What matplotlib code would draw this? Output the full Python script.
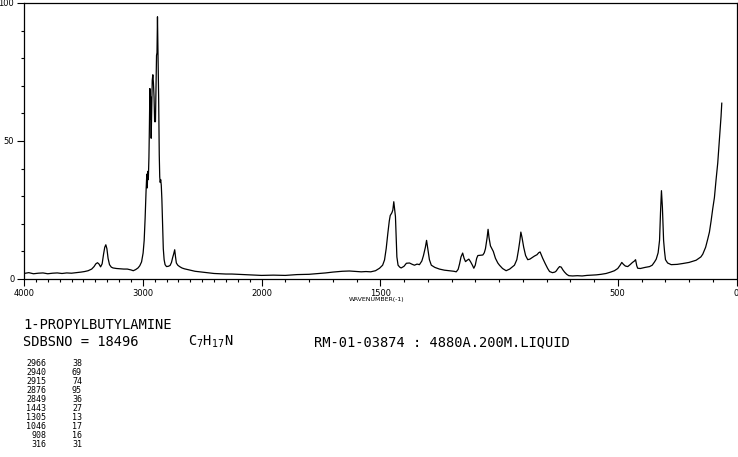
import matplotlib
matplotlib.use("Agg")
import matplotlib.pyplot as plt
import numpy as np

# ---- data ----
wavenumber = [4000, 3960, 3920, 3880, 3840, 3800, 3760, 3720, 3680, 3640, 3600, 3560, 3520, 3490,
              3460, 3430, 3410, 3395, 3381, 3368, 3355, 3342, 3330, 3320, 3311, 3302, 3292, 3280,
              3265, 3250, 3220, 3190, 3160, 3130, 3100, 3080, 3060, 3040, 3025, 3010, 2997, 2988,
              2980, 2972, 2966, 2962, 2958, 2953, 2948, 2944, 2940, 2936, 2933, 2929, 2925, 2920,
              2915, 2910, 2905, 2900, 2893, 2888, 2884, 2880, 2876, 2871, 2866, 2861, 2857, 2853,
              2849, 2844, 2839, 2833, 2827, 2820, 2812, 2800, 2785, 2770, 2758, 2748, 2740, 2731,
              2724, 2717, 2705, 2690, 2670, 2650, 2620, 2590, 2560, 2520, 2480, 2440, 2400, 2350,
              2300, 2250, 2200, 2150, 2100, 2050, 2000, 1950, 1900, 1850, 1800, 1760, 1730, 1700,
              1660, 1630, 1600, 1580, 1560, 1540, 1520, 1503, 1490, 1482, 1475, 1468, 1462, 1458,
              1451, 1447, 1443, 1439, 1436, 1430, 1425, 1418, 1412, 1400, 1390, 1377, 1365, 1356,
              1345, 1335, 1325, 1318, 1310, 1305, 1300, 1293, 1285, 1270, 1251, 1230, 1208, 1190,
              1180, 1172, 1166, 1160, 1153, 1147, 1141, 1134, 1127, 1120, 1112, 1106, 1100, 1094,
              1089, 1080, 1068, 1062, 1057, 1050, 1046, 1042, 1036, 1030, 1024, 1015, 1005, 998,
              985, 970, 955, 945, 935, 925, 918, 912, 908, 903, 896, 888, 879, 870, 860, 851, 840,
              833, 827, 821, 816, 805, 795, 787, 775, 765, 759, 752, 745, 738, 731, 724, 715, 706,
              690, 670, 650, 630, 606, 590, 570, 549, 530, 514, 500, 490, 483, 476, 468, 458, 448,
              438, 430, 425, 420, 416, 405, 395, 385, 366, 355, 345, 338, 330, 324, 320, 316, 312,
              307, 303, 299, 290, 275, 250, 227, 200, 170, 150, 142, 130, 121, 114, 107, 100, 93,
              86, 79, 74, 69, 65, 62]
intensity = [2.0, 2.3, 1.9, 2.1, 2.2, 1.9, 2.1, 2.2, 2.0, 2.2, 2.1, 2.3, 2.5, 2.7,
             3.0, 3.6, 4.5, 5.5, 5.9, 5.4, 4.4, 5.5, 9.0, 11.5, 12.4, 11.0, 7.5, 5.2,
             4.3, 4.0, 3.8, 3.7, 3.6, 3.6, 3.3, 3.0, 3.4, 4.0, 4.8, 6.2, 9.4, 14,
             22, 32, 38, 33, 39, 36, 44, 55, 69, 58, 66, 51, 60, 72,
             74, 71, 66, 57, 57, 70, 81, 82, 95, 80, 65, 45, 37, 35,
             36, 34, 29, 20, 11, 7, 5.2, 4.5, 4.6, 4.9, 6.0, 7.8, 9.0, 10.6,
             8.0, 5.8, 5.0, 4.5, 4.0, 3.7, 3.4, 3.1, 2.8, 2.6, 2.4, 2.2, 2.0, 1.9,
             1.8, 1.8, 1.7, 1.6, 1.5, 1.4, 1.3, 1.4, 1.3, 1.6, 1.7, 2.0, 2.2, 2.5,
             2.8, 2.9, 2.7, 2.6, 2.7, 2.6, 3.0, 3.9, 5.0, 6.9, 11, 16.6, 21, 23,
             24, 25, 28, 25, 22.6, 8.0, 5.0, 4.3, 4.0, 4.6, 5.7, 5.8, 5.3, 5.0,
             5.4, 5.2, 6.5, 8.5, 11.5, 14, 11, 7, 5.0, 4.2, 3.6, 3.2, 3.0, 2.8,
             2.6, 3.5, 5.5, 8.0, 9.4, 7.5, 6.3, 6.8, 7.2, 6.3, 5.0, 3.9, 5.0, 7.5,
             8.5, 8.6, 8.7, 9.5, 11, 15, 18, 15, 12, 11, 10, 7.5, 5.8, 5.0,
             3.8, 3.0, 3.6, 4.3, 5.0, 7, 10.5, 14, 17, 15, 11.5, 8.5, 7.0, 7.2, 7.8, 8.3, 8.8,
             9.5, 9.8, 8.5, 7.5, 5.5, 3.8, 2.7, 2.3, 2.5, 2.9, 3.8, 4.5, 4.3, 3.3, 2.5, 1.7, 1.2,
             1.1, 1.2, 1.1, 1.3, 1.4, 1.5, 1.7, 2.0, 2.5, 3.0, 3.8, 5.0, 6.0, 5.3, 4.7, 4.5, 5.2,
             6.0, 6.5, 7.0, 4.8, 3.9, 3.8, 4.0, 4.2, 4.5, 5.0, 6.2, 7.2, 9.5, 14, 24, 32, 26,
             14, 10, 7, 5.8, 5.2, 5.3, 5.6, 6.0, 6.8, 8.0, 9.0, 11.5, 14.5, 17, 21, 25.5, 29.5,
             36, 42, 48, 54, 59, 63.7]

x_major = [4000, 3000, 2000, 1500, 500, 0]
x_major_labels = ["4000", "3000", "2000", "1500", "500", "0"]
y_major = [0, 50, 100]
y_major_labels = ["0", "50", "100"]

compound = "1-PROPYLBUTYLAMINE"
sdbs_line = "SDBSNO = 18496"
formula = r"C$_7$H$_{17}$N"
method = "RM-01-03874 : 4880A.200M.LIQUID"
peak_wn = ["2966", "2940", "2915", "2876", "2849", "1443", "1305", "1046", "908", "316"]
peak_int = ["38", "69", "74", "95", "36", "27", "13", "17", "16", "31"]

# ---- figure ----
W, H = 738, 457
fig = plt.figure(figsize=(W / 100, H / 100), dpi=100)
fig.patch.set_facecolor("white")

left_px, right_px, top_px, bottom_px = 24, 736.5, 3, 279
ax = fig.add_axes([left_px / W, (H - bottom_px) / H,
                   (right_px - left_px) / W, (bottom_px - top_px) / H])


def fwd(x):
    x = np.asarray(x, dtype=float)
    return np.where(x > 2000, 2000 + (x - 2000) / 2.0, x)


def inv(u):
    u = np.asarray(u, dtype=float)
    return np.where(u > 2000, 2000 + (u - 2000) * 2.0, u)


ax.set_xscale("function", functions=(fwd, inv))
ax.plot(wavenumber, intensity, color="black", lw=0.9)
ax.set_xlim(4000, 0)
ax.set_ylim(0, 100)

ax.set_xticks(x_major)
ax.set_xticklabels(x_major_labels)
ax.set_xticks(np.arange(0, 4001, 100), minor=True)
ax.set_yticks(y_major)
ax.set_yticklabels(y_major_labels)
ax.set_yticks(np.arange(0, 101, 10), minor=True)

ax.tick_params(axis="both", which="major", direction="out", length=5, width=0.8,
               labelsize=6, color="black")
ax.tick_params(axis="both", which="minor", direction="out", length=2.5, width=0.8,
               color="black")
ax.tick_params(axis="x", which="major", pad=2)
ax.tick_params(axis="y", which="major", pad=2)
for s in ax.spines.values():
    s.set_linewidth(0.9)
    s.set_color("black")


def ftext(x, y, s, **kw):
    fig.text(x / W, 1 - y / H, s, va="center", **kw)


ftext(377, 300, "WAVENUMBER(-1)", fontsize=4.5, ha="center")

mono = "DejaVu Sans Mono"
ftext(23, 325, compound, fontsize=9.9, family=mono)
ftext(23, 342, sdbs_line, fontsize=9.9, family=mono)
ftext(188, 342, formula, fontsize=9.9, family=mono)
ftext(314, 342, method, fontsize=9.9, family=mono)

row0, dy = 363, 9.1
for i, (w, v) in enumerate(zip(peak_wn, peak_int)):
    ftext(46, row0 + i * dy, w, fontsize=6, family=mono, ha="right")
    ftext(82, row0 + i * dy, v, fontsize=6, family=mono, ha="right")

fig.savefig("out.png", dpi=100, facecolor="white")
